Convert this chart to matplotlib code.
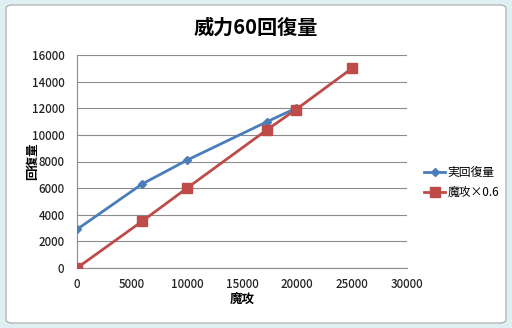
import matplotlib
matplotlib.use("Agg")
from matplotlib import pyplot as plt
from matplotlib.patches import FancyBboxPatch

plt.rcParams['font.family'] = ['Noto Sans CJK JP', 'DejaVu Sans']

# data
jitsu_x = [0, 5900, 10000, 17300, 19900]
jitsu_y = [2900, 6300, 8100, 11000, 12000]
makou_x = [0, 5900, 10000, 17300, 19900, 25000]
makou_y = [0, 3500, 6000, 10400, 11900, 15000]

x_ticks = [0, 5000, 10000, 15000, 20000, 25000, 30000]
y_ticks = [0, 2000, 4000, 6000, 8000, 10000, 12000, 14000, 16000]

fig = plt.figure(figsize=(5.12, 3.28), dpi=100)
fig.patch.set_facecolor('#dff0f2')

# white chart area with rounded grey border
frame = FancyBboxPatch((6 / 512, 5 / 328), 500 / 512, 318 / 328,
                       boxstyle="round,pad=0,rounding_size=0.012",
                       transform=fig.transFigure, facecolor='white',
                       edgecolor='#a6a6a6', linewidth=0.8, zorder=-10)
fig.patches.append(frame)

ax = fig.add_axes([77 / 512, 1 - 268 / 328, 330 / 512, 213 / 328])
ax.set_facecolor('none')

ax.plot(jitsu_x, jitsu_y, color='#4a7ebb', linewidth=2, marker='D',
        markersize=4, label='実回復量', zorder=3)
ax.plot(makou_x, makou_y, color='#be4b48', linewidth=2, marker='s',
        markersize=7, label='魔攻×0.6', zorder=3)

ax.set_xlim(0, 30000)
ax.set_ylim(0, 16000)
ax.set_xticks(x_ticks)
ax.set_yticks(y_ticks)
ax.yaxis.grid(True, color='#8c8c8c', linewidth=0.8)
ax.set_axisbelow(True)
ax.tick_params(length=0, labelsize=8.3, colors='#222222')
ax.tick_params(axis='y', pad=9)
ax.tick_params(axis='x', pad=7)
for s in ['top', 'right']:
    ax.spines[s].set_visible(False)
for s in ['left', 'bottom']:
    ax.spines[s].set_color('#8c8c8c')
    ax.spines[s].set_linewidth(0.8)
for lab in ax.get_xticklabels() + ax.get_yticklabels():
    lab.set_fontweight('medium')

fig.text(256 / 512, 1 - 27 / 328, '威力60回復量', ha='center', va='center',
         fontsize=14.5, fontweight='bold')
fig.text(242 / 512, 1 - 299 / 328, '魔攻', ha='center', va='center',
         fontsize=9, fontweight='bold')
fig.text(33 / 512, 1 - 161 / 328, '回復量', ha='center', va='center',
         fontsize=9, fontweight='bold', rotation=90)

ax.legend(loc='center left', bbox_to_anchor=(1.02, 0.40), frameon=False,
          fontsize=8.5, handlelength=1.8, handletextpad=0.2, labelspacing=0.6)

plt.savefig('out.png', dpi=100)
